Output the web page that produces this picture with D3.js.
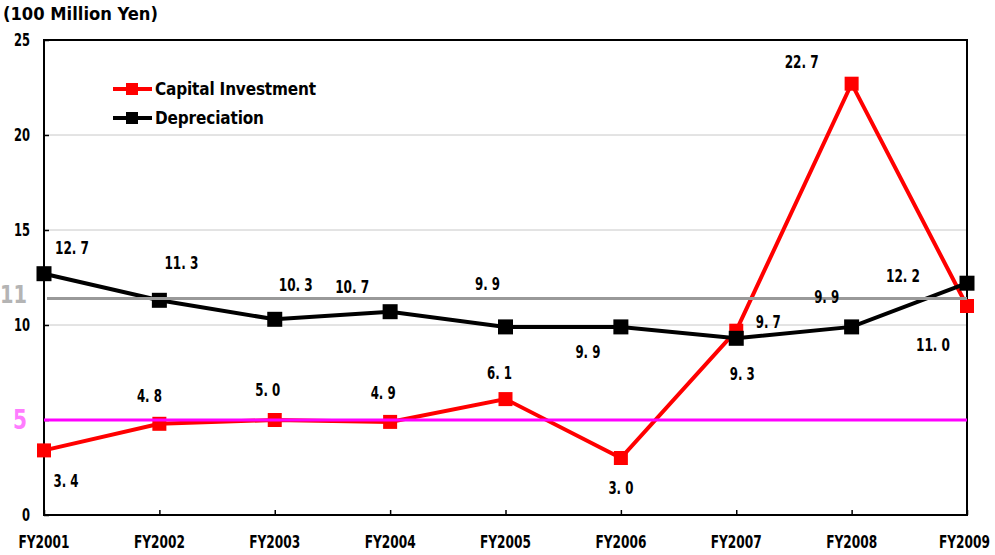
<!DOCTYPE html>
<html>
<head>
<meta charset="utf-8">
<script src="https://cdn.jsdelivr.net/npm/d3@7"></script>
<style>
  html, body { margin: 0; padding: 0; background: #fff; }
  svg { display: block; }
  text { font-family: "DejaVu Sans Condensed", "Liberation Sans", sans-serif; font-weight: bold; }
</style>
</head>
<body>
<svg id="chart" width="995" height="555"></svg>
<script>
// Fiscal years and series (100 million yen)
const categories = ["FY2001", "FY2002", "FY2003", "FY2004", "FY2005", "FY2006", "FY2007", "FY2008", "FY2009"];
const capitalInvestment = [3.4, 4.8, 5.0, 4.9, 6.1, 3.0, 9.7, 22.7, 11.0];
const depreciation = [12.7, 11.3, 10.3, 10.7, 9.9, 9.9, 9.3, 9.9, 12.2];
const yTicks = [0, 5, 10, 15, 20, 25];
const referenceValues = [11.4, 5];
const referenceLabels = ["11", "5"];

// Label placement (dx, dy from each marker)
const capitalLabelOffsets = [[22, 30], [-10, -28], [-7, -30], [-7, -29], [-6, -27], [0, 30], [32, -9], [-50, -22], [-34, 39]];
const depreciationLabelOffsets = [[28, -26], [22, -38], [21, -35], [-38, -25], [-18, -43], [-33, 25], [6, 35], [-25, -30], [-64, -8]];

const svg = d3.select("#chart");
const width = 995;
const plotLeft = 44, plotRight = 967, plotTop = 40, plotBottom = 515;

const x = d3.scalePoint().domain(categories).range([plotLeft, plotRight]);
const y = d3.scaleLinear().domain([0, 25]).range([plotBottom, plotTop]);

// Narrow, tall lettering: squeeze each string into a width set per character
const fitWidth = (sel, perChar, extra) =>
  sel.attr("textLength", function () { return this.textContent.length * perChar + extra; })
     .attr("lengthAdjust", "spacingAndGlyphs");

// Gridlines
svg.append("g").selectAll("line").data(yTicks.filter(t => t > 0 && t < 25)).join("line")
  .attr("x1", plotLeft).attr("x2", plotRight)
  .attr("y1", d => y(d)).attr("y2", d => y(d))
  .attr("stroke", "#c8c8c8").attr("stroke-width", 1);

// Plot frame
svg.append("rect").attr("x", plotLeft).attr("y", plotTop)
  .attr("width", plotRight - plotLeft).attr("height", plotBottom - plotTop)
  .attr("fill", "none").attr("stroke", "#000").attr("stroke-width", 2);

// Y axis (ticks point into the plot)
const yAxis = svg.append("g").attr("transform", `translate(${plotLeft},0)`)
  .call(d3.axisRight(y).tickValues(yTicks).tickSize(5).tickFormat(""));
yAxis.select(".domain").remove();
yAxis.selectAll("line").attr("stroke", "#000").attr("stroke-width", 1.5);
svg.append("g").selectAll("text").data(yTicks.filter(t => !referenceLabels.includes(String(t)))).join("text")
  .attr("x", 30).attr("y", d => y(d)).attr("dy", "0.36em")
  .attr("text-anchor", "end").attr("font-size", 18).attr("fill", "#000")
  .text(d => d)
  .call(fitWidth, 8, 0);

// X axis
const xLabelWidth = 51;
const xAxis = svg.append("g").attr("transform", `translate(0,${plotBottom})`)
  .call(d3.axisTop(x).tickSize(5).tickFormat(""));
xAxis.select(".domain").remove();
xAxis.selectAll("line").attr("stroke", "#000").attr("stroke-width", 1.5);
svg.append("g").selectAll("text").data(categories).join("text")
  .attr("x", d => Math.min(x(d) - xLabelWidth / 2, width - 5 - xLabelWidth)).attr("y", 542).attr("dy", "0.36em")
  .attr("font-size", 18).attr("fill", "#000")
  .attr("textLength", xLabelWidth).attr("lengthAdjust", "spacingAndGlyphs")
  .text(d => d);

// Unit title
svg.append("text").attr("x", 3).attr("y", 14).attr("dy", "0.36em")
  .attr("font-size", 17).attr("textLength", 155).attr("lengthAdjust", "spacingAndGlyphs")
  .text("(100 Million Yen)");

const line = d3.line().x((d, i) => x(categories[i])).y(d => y(d));

function drawSeries(values, color, size) {
  const g = svg.append("g");
  g.append("path").datum(values).attr("d", line)
    .attr("fill", "none").attr("stroke", color).attr("stroke-width", 4)
    .attr("stroke-linejoin", "miter");
  g.selectAll("rect").data(values).join("rect")
    .attr("x", (d, i) => x(categories[i]) - size / 2)
    .attr("y", d => y(d) - size / 2)
    .attr("width", size).attr("height", size).attr("fill", color);
}
drawSeries(capitalInvestment, "#ff0000", 14);
drawSeries(depreciation, "#000000", 15);

// Reference lines with their large markers at the left edge
const refColors = ["#999999", "#ff00ff"];
const refTextColors = ["#b4b4b4", "#ff7cff"];
const refLabelBox = [[0, 27, 25, -4], [13, 14, 27, -1]];
referenceValues.forEach((v, i) => {
  svg.append("line").attr("x1", plotLeft + (i === 0 ? 3 : 0)).attr("x2", plotRight)
    .attr("y1", y(v)).attr("y2", y(v))
    .attr("stroke", refColors[i]).attr("stroke-width", 3);
  const [lx, lw, fs, ldy] = refLabelBox[i];
  svg.append("text").attr("x", lx).attr("y", y(v) + ldy).attr("dy", "0.36em")
    .attr("font-size", fs)
    .attr("font-family", "'Liberation Sans', Arial, sans-serif")
    .attr("textLength", lw).attr("lengthAdjust", "spacingAndGlyphs")
    .attr("fill", refTextColors[i]).text(referenceLabels[i]);
});

// Value labels
const fmt = v => d3.format(".1f")(v).replace(".", ". ");
function drawLabels(values, offsets) {
  svg.append("g").selectAll("text").data(values).join("text")
    .attr("x", (d, i) => x(categories[i]) + offsets[i][0])
    .attr("y", (d, i) => y(d) + offsets[i][1]).attr("dy", "0.36em")
    .attr("text-anchor", "middle").attr("font-size", 18)
    .style("white-space", "pre")
    .text(d => fmt(d))
    .call(fitWidth, 9, -11);
}
drawLabels(capitalInvestment, capitalLabelOffsets);
drawLabels(depreciation, depreciationLabelOffsets);

// Legend
const legend = [["Capital Investment", "#ff0000"], ["Depreciation", "#000000"]];
const lg = svg.append("g");
legend.forEach(([name, color], i) => {
  const ly = 89 + i * 29;
  lg.append("line").attr("x1", 113).attr("x2", 152).attr("y1", ly).attr("y2", ly)
    .attr("stroke", color).attr("stroke-width", 4);
  lg.append("rect").attr("x", 126).attr("y", ly - 6).attr("width", 12).attr("height", 12).attr("fill", color);
  lg.append("text").attr("x", 155).attr("y", ly).attr("dy", "0.36em")
    .attr("font-size", 17).attr("textLength", i === 0 ? 161 : 109).attr("lengthAdjust", "spacing")
    .text(name);
});
</script>
</body>
</html>
